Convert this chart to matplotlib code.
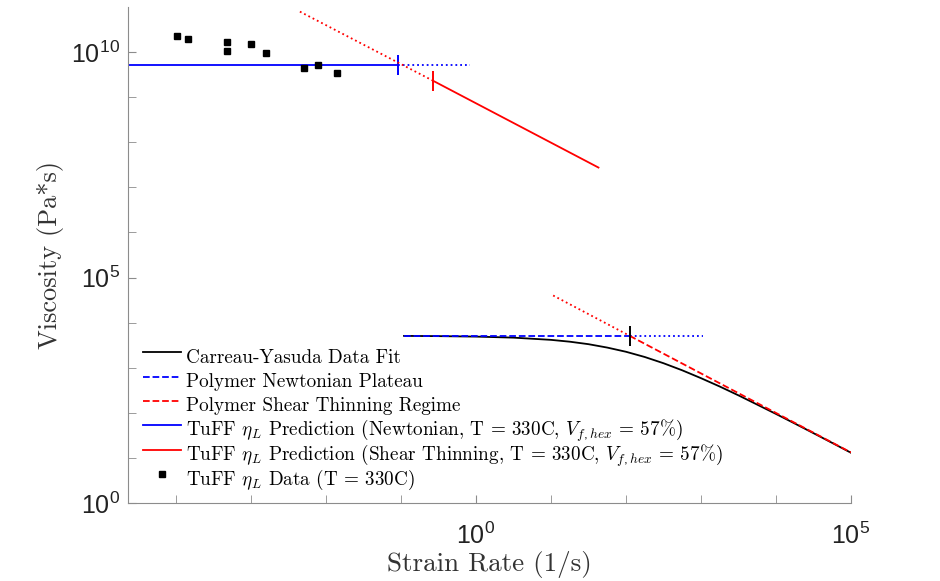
import matplotlib
matplotlib.use("Agg")
import matplotlib.pyplot as plt
from matplotlib.ticker import NullFormatter, FixedLocator
from matplotlib.lines import Line2D
from matplotlib.legend_handler import HandlerLine2D

plt.rcParams['font.family'] = ['cmr10']
plt.rcParams['mathtext.fontset'] = 'custom'
plt.rcParams['mathtext.rm'] = 'Liberation Sans'
plt.rcParams['mathtext.it'] = 'cmmi10'
plt.rcParams['axes.unicode_minus'] = False

# TuFF measured data (T = 330C)
data_rate = [1.05e-4, 1.45e-4, 4.8e-4, 4.8e-4, 1.0e-3, 1.6e-3, 5.1e-3, 7.8e-3, 1.4e-2]
data_visc = [2.3e10, 2.0e10, 1.7e10, 1.05e10, 1.5e10, 9.5e9, 4.5e9, 5.1e9, 3.4e9]

# TuFF predictions (endpoints)
newt_rate = [2.3e-5, 0.091]
newt_visc = [5.1e9, 5.1e9]
newt_ext_rate = [0.091, 0.83]
newt_ext_visc = [5.1e9, 5.1e9]
thin_ext_rate = [4.5e-3, 0.27]
thin_ext_visc = [7.9e10, 2.3e9]
thin_rate = [0.27, 43]
thin_visc = [2.3e9, 2.75e7]

# polymer plateau / shear thinning asymptotes
plat_rate = [0.11, 112]
plat_visc = [5.1e3, 5.1e3]
plat_ext_rate = [112, 1050]
plat_ext_visc = [5.1e3, 5.1e3]
st_ext_rate = [10.7, 112]
st_ext_visc = [4.0e4, 5.1e3]
st_rate = [112, 1e5]
st_visc = [5.1e3, 13.2]

# Carreau-Yasuda fit, points
cy_rate = [0.11, 0.316, 1, 3.16, 10, 17.8, 31.6, 56.2, 100, 178, 316, 562,
           1000, 1780, 3160, 5620, 1e4, 1.78e4, 3.16e4, 5.62e4, 1e5]
cy_visc = [5080, 5020, 4900, 4650, 4150, 3780, 3330, 2800, 2260, 1730, 1260, 877,
           587, 383, 244, 152, 94.4, 57.9, 35.4, 21.5, 13.0]

fig = plt.figure(figsize=(9.4, 5.81), dpi=100)
ax = fig.add_axes([128/940, 78/581, 723/940, 496/581])

lw = 1.3
ax.plot(cy_rate, cy_visc, color='k', lw=lw, label='Carreau-Yasuda Data Fit')
ax.plot(plat_rate, plat_visc, color='b', ls='--', lw=lw, label='Polymer Newtonian Plateau')
ax.plot(plat_ext_rate, plat_ext_visc, color='b', ls=':', lw=lw)
ax.plot(st_rate, st_visc, color='r', ls='--', lw=lw, label='Polymer Shear Thinning Regime')
ax.plot(st_ext_rate, st_ext_visc, color='r', ls=':', lw=lw)
ax.plot([plat_rate[1]], [plat_visc[1]], color='k', marker='|', ms=15, mew=1.4)

ax.plot(newt_rate, newt_visc, color='b', lw=lw,
        label=r'TuFF $\eta_L$ Prediction (Newtonian, T = 330C, $V_{f,hex}$ = 57%)')
ax.plot(newt_ext_rate, newt_ext_visc, color='b', ls=':', lw=lw)
ax.plot([newt_rate[1]], [newt_visc[1]], color='b', marker='|', ms=15, mew=1.4)
ax.plot(thin_rate, thin_visc, color='r', lw=lw,
        label=r'TuFF $\eta_L$ Prediction (Shear Thinning, T = 330C, $V_{f,hex}$ = 57%)')
ax.plot(thin_ext_rate, thin_ext_visc, color='r', ls=':', lw=lw)
ax.plot([thin_rate[0]], [thin_visc[0]], color='r', marker='|', ms=15, mew=1.4)

ax.plot(data_rate, data_visc, ls='none', marker='s', ms=4, color='k',
        label=r'TuFF $\eta_L$ Data (T = 330C)')

ax.set_xscale('log')
ax.set_yscale('log')
ax.set_xlim(2.3e-5, 1e5)
ax.set_ylim(1, 1e11)

ax.xaxis.set_major_locator(FixedLocator([1, 1e5]))
ax.xaxis.set_minor_locator(FixedLocator([1e-4, 1e-3, 1e-2, 1e-1, 1e1, 1e2, 1e3, 1e4]))
ax.yaxis.set_major_locator(FixedLocator([1, 1e5, 1e10]))
ax.yaxis.set_minor_locator(FixedLocator([10.0**k for k in range(1, 11) if k % 5]))
ax.xaxis.set_minor_formatter(NullFormatter())
ax.yaxis.set_minor_formatter(NullFormatter())
ax.set_xticklabels([r'$10^{0}$', r'$10^{5}$'])
ax.set_yticklabels([r'$10^{0}$', r'$10^{5}$', r'$10^{10}$'])

gray = '#8c8c8c'
for s in ['top', 'right']:
    ax.spines[s].set_visible(False)
for s in ['left', 'bottom']:
    ax.spines[s].set_color(gray)
ax.tick_params(which='both', direction='in', color=gray, labelsize=18, labelcolor='#222222',
               length=6)
ax.tick_params(axis='x', pad=14)
ax.tick_params(axis='y', pad=5)

ax.set_xlabel('Strain Rate (1/s)', fontsize=19.5, color='#333333', labelpad=2)
ax.set_ylabel('Viscosity (Pa*s)', fontsize=19, color='#333333', labelpad=5)

# tall handle boxes keep every legend row the same height
ax.legend(loc='lower left', bbox_to_anchor=(0.008, 0.0), frameon=False, fontsize=13.8,
          handlelength=1.95, handleheight=2.0, handletextpad=0.3, labelspacing=-0.27,
          borderaxespad=0.1, handler_map={Line2D: HandlerLine2D(ypad=-0.35)})

fig.savefig('out.png', dpi=100)
